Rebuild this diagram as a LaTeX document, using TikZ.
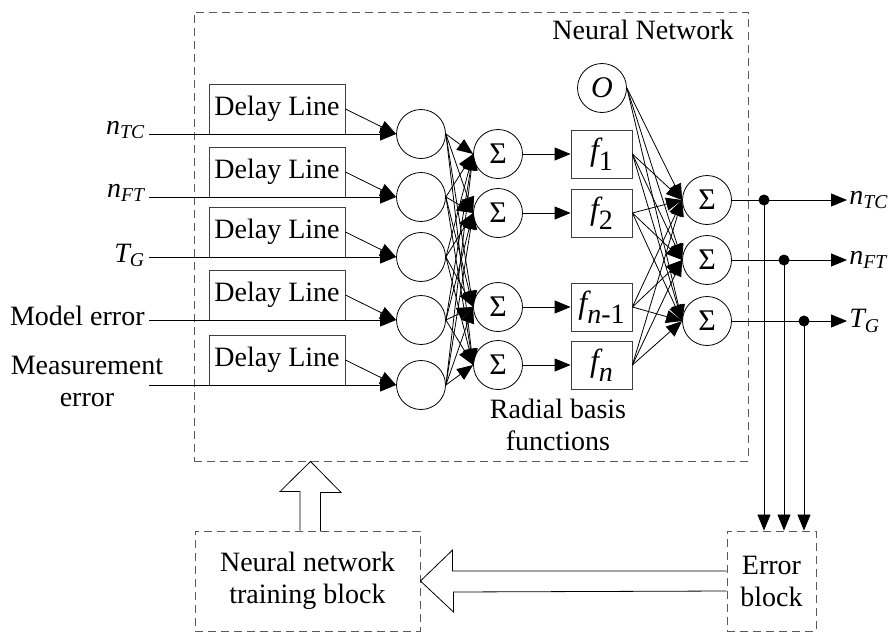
\documentclass[tikz,border=0pt]{standalone}
\usepackage{fontspec}
\setmainfont{Liberation Serif}
\usetikzlibrary{arrows.meta}
\newcommand\fsub[1]{{\fontsize{32}{32}\selectfont\itshape f}\raisebox{-10pt}{\fontsize{28}{28}\selectfont#1}}
\tikzset{
  >={Triangle[length=16pt,width=13pt]},
  dashbox/.style={draw=black!65,dash pattern=on 8pt off 5pt,line width=0.9pt,inner sep=0pt},
  delaybox/.style={draw=black!75,minimum width=136pt,minimum height=50pt,inner sep=0pt},
  fbox/.style={draw=black!75,minimum width=61pt,minimum height=48pt,inner sep=0pt},
  neuron/.style={draw,circle,minimum size=49pt,inner sep=0pt},
  sigma/.style={neuron,font=\fontsize{30}{30}\selectfont},
  dot/.style={fill,circle,minimum size=11pt,inner sep=0pt}
}
\begin{document}
\begin{tikzpicture}[x=1pt,y=-1pt,line width=0.8pt,inner sep=2pt,font=\fontsize{28}{32}\selectfont]
\useasboundingbox (0,0) rectangle (889,632);
% frames
\node[dashbox,minimum width=554pt,minimum height=449pt] (nn) at (471,236.5) {};
\node (nnlabel) at (643,30) {Neural Network};
\node[dashbox,minimum width=225pt,minimum height=100pt,align=center] (train) at (307.5,581) {Neural network\\training block};
\node[dashbox,minimum width=89pt,minimum height=100pt,align=center] (err) at (771.5,581) {Error\\block};

% inputs
\foreach \y [count=\i] in {134,197,257,320,385} {
  \node[delaybox] (d\i) at (277,\y-25) {Delay Line};
  \node[neuron] (in\i) at (421,\y) {};
}
\node[anchor=base east] (x1) at (147,134) {\itshape n\textsubscript{TC}};
\node[anchor=base east] (x2) at (147,197) {\itshape n\textsubscript{FT}};
\node[anchor=base east] (x3) at (147,262) {\itshape T\textsubscript{G}};
\node[anchor=base east] (x4) at (147,325) {Model error};
\node[align=center] (x5) at (87,381) {Measurement\\error};
\coordinate (src) at (149,0);
\foreach \i in {1,...,5} {
  \draw[->] (src |- in\i) -- (in\i.west);
  \draw[->] (d\i.east) -- (in\i.west);
}

% radial basis layer
\foreach \y/\s [count=\j] in {154/{\fsub{1}},213/{\fsub{2}},307/{\fsub{\itshape n\upshape-1}},365/{\fsub{\itshape n}}} {
  \node[sigma] (h\j) at (498,\y) {Σ};
  \node[fbox] (f\j) at (601.5,\y) {\s};
  \draw[->] (h\j.east) -- (f\j.west);
}
\node[align=center] (rbf) at (558,425) {Radial basis\\functions};
\node[neuron,font=\fontsize{30}{30}\selectfont] (bias) at (602,88) {\itshape O};

% outputs
\foreach \y/\t [count=\k] in {200/{n\textsubscript{TC}},260/{n\textsubscript{FT}},321/{T\textsubscript{G}}} {
  \node[sigma] (o\k) at (707,\y) {Σ};
  \node[anchor=west] (y\k) at (847,\y) {\itshape\t};
  \draw[->] (o\k.east) -- (y\k.west);
}
\foreach \i in {1,...,5}
  \foreach \j in {1,...,4}
    \draw[->] (in\i.east) -- (h\j.west);
\foreach \k in {1,2,3} {
  \foreach \j in {1,...,4}
    \draw[->] (f\j.east) -- (o\k.west);
  \draw[->] (bias.east) -- (o\k.west);
}
\foreach \x/\y [count=\k] in {764/200,784/260,804/321} {
  \node[dot] (p\k) at (\x,\y) {};
  \draw[->] (p\k.center) -- (p\k |- err.north);
}

% training loop (hollow arrows)
\draw ([xshift=-7.5pt]train.north) -- ++(0,-39) -- ++(-20,0) -- ([xshift=3pt]train.north |- nn.south)
  -- ++(30.5,31) -- ++(-20.5,0) -- ++(0,39);
\draw ([yshift=10pt]err.west) -- ++(-274,0) -- ++(0,-21) -- (train.east)
  -- ++(33,31) -- ++(0,-20) -- ([yshift=-10pt]err.west);
\end{tikzpicture}
\end{document}
